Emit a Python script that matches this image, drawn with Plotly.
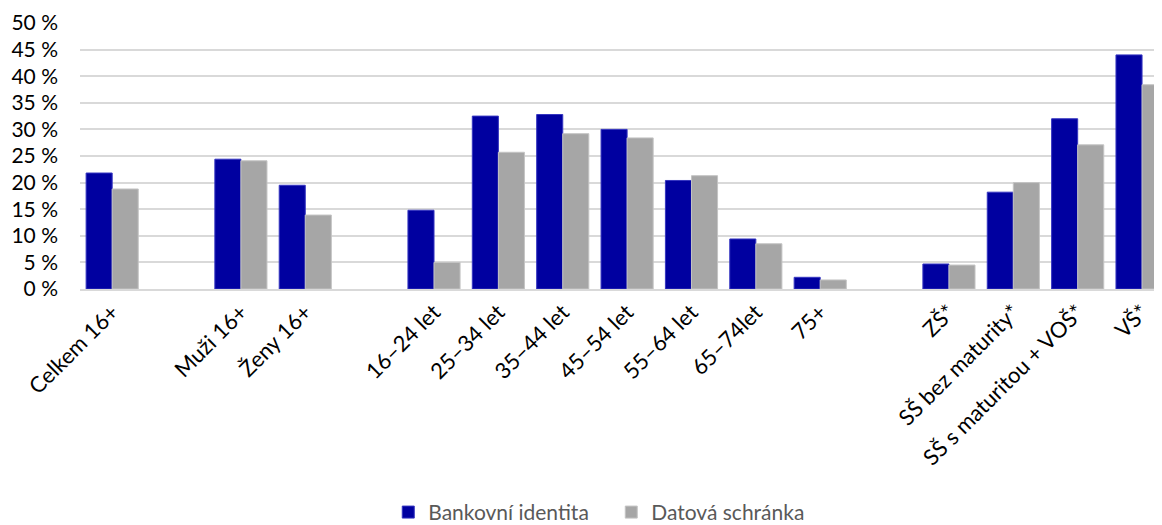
import plotly.graph_objects as go

categories = ["Celkem 16+", " ", "Muži 16+", "Ženy 16+", "  ",
              "16–24 let", "25–34 let", "35–44 let", "45–54 let", "55–64 let", "65–74let", "75+",
              "   ", "ZŠ*", "SŠ bez maturity*", "SŠ s maturitou + VOŠ*", "VŠ*"]
bankovni = [21.8, None, 24.4, 19.5, None, 14.8, 32.5, 32.8, 30.0, 20.4, 9.4, 2.2,
            None, 4.7, 18.2, 32.0, 44.0]
datova = [18.8, None, 24.1, 13.9, None, 5.0, 25.7, 29.2, 28.4, 21.3, 8.5, 1.7,
          None, 4.5, 20.0, 27.1, 38.4]
y_ticks = [0, 5, 10, 15, 20, 25, 30, 35, 40, 45, 50]

FONT = "Lato"

fig = go.Figure()
fig.add_trace(go.Bar(name="Bankovní identita", x=categories, y=bankovni,
                     marker=dict(color="#0000A0", line=dict(color="#3535C0", width=1))))
fig.add_trace(go.Bar(name="Datová schránka", x=categories, y=datova,
                     marker=dict(color="#A6A6A6", line=dict(color="#C4C4C4", width=1))))

# page body has an 8px margin, so the figure is sized to fill the remaining window
fig.update_layout(
    width=1154, height=517,
    margin=dict(l=72, r=0, t=15, b=236, autoexpand=False),
    paper_bgcolor="white", plot_bgcolor="white",
    barmode="group", bargap=0.19, bargroupgap=0,
    font=dict(family=FONT, size=21, color="#000000"),
    showlegend=True,
    legend=dict(orientation="h", x=0.491, xanchor="center", y=-0.84, yanchor="middle",
                font=dict(family=FONT, size=21, color="#595959"),
                traceorder="normal", entrywidth=178, entrywidthmode="pixels"),
)
fig.update_xaxes(
    type="category", categoryorder="array", categoryarray=categories,
    range=[-0.5, 16.31], tickangle=-45, showgrid=False, automargin=False,
    showline=True, linecolor="#D9D9D9", linewidth=1.5, ticks="",
    tickfont=dict(family=FONT, size=22, color="#000000"),
)
fig.update_yaxes(
    range=[0, 50], tickvals=y_ticks, ticktext=[f"{v} %" for v in y_ticks],
    showgrid=True, gridcolor="#D9D9D9", gridwidth=1.5, zeroline=False, automargin=False,
    showline=False, ticks="", ticklabelstandoff=21,
    tickfont=dict(family=FONT, size=21, color="#000000"),
)

fig.write_html("out.html")
